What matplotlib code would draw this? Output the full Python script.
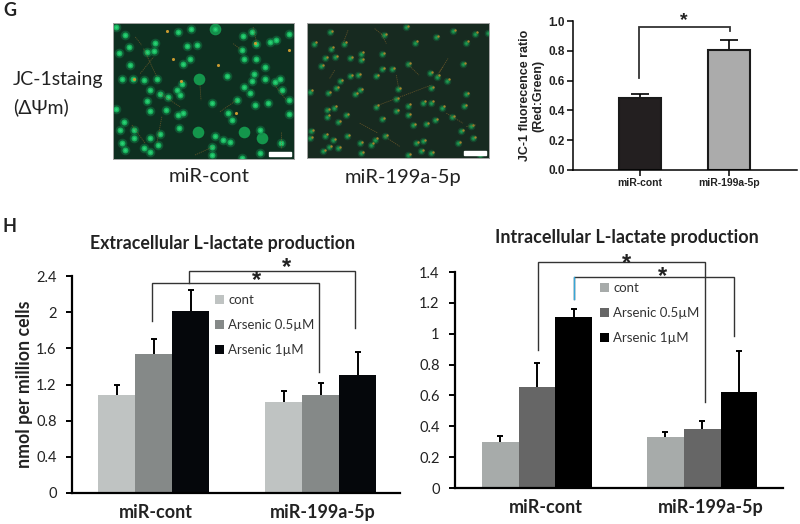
import matplotlib
matplotlib.use("Agg")
import matplotlib.pyplot as plt
from matplotlib.patches import Rectangle

W, H = 800, 524
plt.rcParams['font.family'] = ['Lato', 'DejaVu Sans']
DARK = "#222222"

# panel G
jc1_labels = ["miR-cont", "miR-199a-5p"]
jc1_values = [0.485, 0.805]
jc1_errors = [0.025, 0.07]

# panel H
groups = ["miR-cont", "miR-199a-5p"]
series = ["cont", "Arsenic 0.5µM", "Arsenic 1µM"]
extra_values = [[1.08, 1.01], [1.54, 1.08], [2.01, 1.31]]
extra_errors = [[0.12, 0.12], [0.16, 0.14], [0.23, 0.25]]
intra_values = [[0.295, 0.33], [0.655, 0.38], [1.11, 0.62]]
intra_errors = [[0.04, 0.035], [0.155, 0.055], [0.05, 0.265]]

# micrograph cells in 3x crop pixels
cont_cells = [(75,73),(55,128),(85,110),(163,97),(140,125),(160,123),(90,163),(65,207),(97,207),(130,210),(170,205),
              (150,240),(140,272),(180,252),(230,240),(245,222),(205,262),(240,255),(235,65),(272,55),(345,55),(428,78),
              (457,65),(510,95),(530,88),(468,100),(425,120),(432,147),(468,145),(495,170),(463,190),(497,207),(458,212),
              (433,230),(450,248),(542,205),(548,240),(525,215),(568,270),(505,280),(465,285),(410,270),(385,308),(397,330),
              (250,160),(270,145),(290,103),(262,108),(380,197),(336,280),(197,300),(235,315),(250,310),(150,302),(48,298),
              (70,335),(60,360),(100,360),(100,385),(148,385),(180,372),(238,355),(345,378),(368,390),(390,395),(480,360),
              (335,410),(335,435),(425,445),(480,430),(65,400),(75,420),(130,415),(175,405),(150,425),(545,400),(567,312),
              (568,70),(48,50)]
cont_big = [(298,205),(432,365),(488,385),(345,55),(295,365)]
cont_red = [(408,310),(242,213),(355,163),(220,147),(200,63),(465,97),(100,207),(567,120)]
mir_cells = [(90,65),(42,100),(95,115),(133,100),(107,140),(75,145),(150,143),(185,130),(185,150),(248,132),(65,168),
             (122,213),(175,195),(228,198),(150,198),(110,235),(85,250),(180,240),(165,252),(278,178),(248,178),(295,237),
             (325,163),(345,97),(252,75),(320,50),(408,80),(460,62),(500,97),(525,70),(490,163),(392,190),(412,200),
             (443,212),(395,235),(370,278),(393,278),(498,252),(492,288),(428,293),(325,287),(230,290),(288,268),(290,303),
             (325,315),(340,345),(378,343),(405,330),(458,322),(248,327),(82,300),(103,293),(82,320),(140,315),(115,337),
             (35,365),(30,385),(75,378),(100,392),(143,380),(180,400),(225,390),(255,380),(215,405),(88,412),(70,425),
             (115,415),(185,430),(350,400),(370,395),(365,425),(395,430),(325,437),(475,400),(485,365),(515,350),(520,385),
             (540,437),(565,68),(30,245)]
# thin processes between cells, crop pixels
cont_fibres = [[(120,190),(160,140)],[(300,225),(303,270)],[(360,305),(410,270)],[(545,365),(545,415)],[(285,435),(340,410)],
               [(95,345),(135,400)],[(185,320),(170,400)],[(400,100),(425,120)],[(460,50),(470,95)],[(525,225),(560,270)],
               [(130,115),(170,200)],[(105,80),(125,105)],[(180,250),(240,290)]]
mir_fibres = [[(225,290),(330,250),(395,225)],[(430,170),(410,200)],[(90,205),(105,180)],[(245,70),(260,100)],[(225,55),(250,75)],
              [(290,195),(297,235)],[(325,163),(358,195)],[(180,340),(235,370)],[(255,380),(300,410)],[(440,310),(490,340)],
              [(420,185),(445,145)],[(145,60),(130,100)],[(500,350),(530,345)]]


fig = plt.figure(figsize=(W / 100, H / 100), dpi=100)

# overlay in pixel coordinates for the labels and brackets
ov = fig.add_axes([0, 0, 1, 1], zorder=5)
ov.set_xlim(0, W)
ov.set_ylim(H, 0)
ov.axis("off")


def px_axes(x0, x1, y_top, y_bottom):
    return fig.add_axes([x0 / W, 1 - y_bottom / H, (x1 - x0) / W, (y_bottom - y_top) / H])


def base_photo(box, crop_box, bg, fibres):
    ax = px_axes(*box)
    ax.set_facecolor(bg)
    ax.set_xlim(crop_box[0], crop_box[1])
    ax.set_ylim(crop_box[3], crop_box[2])
    ax.set_xticks([])
    ax.set_yticks([])
    for s in ax.spines.values():
        s.set_color("#a5a5a5")
        s.set_linewidth(0.7)
    for f in fibres:
        ax.plot(*zip(*f), color="#7a5f2a", lw=0.6, alpha=0.7, ls=(0, (1.5, 1)))
    # white scale bar
    ax.add_patch(Rectangle((crop_box[1] - 75, crop_box[3] - 20), 65, 10, color="white", zorder=5))
    return ax


ax_p1 = base_photo((113, 294, 23, 159), (38, 583, 38, 447), "#0e2f20", cont_fibres)
ax_p1.scatter(*zip(*cont_big), s=70, color="#16a955", linewidths=0, alpha=0.85)
ax_p1.scatter(*zip(*cont_cells), s=48, color="#14824a", linewidths=0, alpha=0.45)
ax_p1.scatter(*zip(*cont_cells), s=18, color="#18b15c", linewidths=0)
ax_p1.scatter(*zip(*cont_cells), s=4, color="#2bd277", linewidths=0)
ax_p1.scatter(*zip(*cont_red), s=5, color="#c99a30", linewidths=0)

ax_p2 = base_photo((307, 489, 23, 158), (22, 568, 38, 445), "#172a20", mir_fibres)
ax_p2.scatter(*zip(*mir_cells), s=30, color="#14603a", linewidths=0, alpha=0.5)
ax_p2.scatter(*zip(*mir_cells), s=12, color="#17773f", linewidths=0)
ax_p2.scatter(*zip(*mir_cells), s=3, color="#1f9b55", linewidths=0)
ax_p2.scatter([c[0] + 6 for c in mir_cells], [c[1] - 4 for c in mir_cells], s=3, color="#a8822c", linewidths=0)

ov.text(13, 80, "JC-1staing", fontsize=14, va="center", ha="left", color=DARK)
ov.text(13, 107, "(ΔΨm)", fontsize=14, va="center", ha="left", color=DARK)
ov.text(209, 177, "miR-cont", fontsize=14.5, ha="center", va="center", color=DARK)
ov.text(403, 177, "miR-199a-5p", fontsize=14.5, ha="center", va="center", color=DARK)
ov.text(3, 10, "G", fontsize=13, fontweight="bold", va="center", color=DARK)
ov.text(3, 227, "H", fontsize=13, fontweight="bold", va="center", color=DARK)


def bracket(x0, y0, x1, y1, yend, color="#333333", lw=1.0):
    ov.plot([x0, x0, x1, x1], [y0, y1, y1, yend], color=color, lw=lw, solid_joinstyle="miter")


def upper_err(ax, xs, vals, errs, lw, cap):
    # error bars only go upward, drop the lower cap
    eb = ax.errorbar(xs, vals, yerr=[[0] * len(vals), errs], fmt="none", ecolor="black",
                     elinewidth=lw, capsize=cap, capthick=lw, zorder=1)
    eb[1][0].set_visible(False)


def grouped(ax, values, errors, colors, width, ymax, ticks, ticklabels, label_shift, label_pad):
    for i, vals in enumerate(values):
        xs = [g + (i - 1) * width for g in range(len(groups))]
        ax.bar(xs, vals, width, color=colors[i], label=series[i], zorder=2)
        upper_err(ax, xs, vals, errors[i], 1.4, 2)
    ax.set_ylim(0, ymax)
    ax.set_yticks(ticks)
    ax.set_yticklabels(ticklabels, fontsize=10.5, color=DARK)
    ax.set_xticks([g + label_shift for g in range(len(groups))])
    ax.set_xticklabels(groups, fontsize=13, fontweight="bold", color=DARK)
    ax.tick_params(axis="x", length=0, pad=label_pad)
    ax.tick_params(axis="y", direction="out", length=4, width=1.4, pad=7)
    ax.spines[["top", "right"]].set_visible(False)
    ax.spines[["left", "bottom"]].set_linewidth(1.6)
    ax.patch.set_alpha(0)


def put_legend(ax, left, top, box):
    ax.legend(loc="upper left", bbox_to_anchor=((left - box[0]) / (box[1] - box[0]), (box[3] - top) / (box[3] - box[2])),
              frameon=False, fontsize=9.5, handlelength=0.7, handleheight=0.7, handletextpad=0.3,
              labelspacing=0.98, borderpad=0, borderaxespad=0, labelcolor="#333333")


# JC-1 bars
ARIAL = ["Liberation Sans", "DejaVu Sans"]
ax_g = px_axes(573, 797, 21, 170)
ax_g.bar(range(2), jc1_values, 0.48, color=["#231f20", "#ababab"], edgecolor="#1a1a1a", linewidth=1.5, zorder=2)
upper_err(ax_g, range(2), jc1_values, jc1_errors, 1.2, 6.5)
ax_g.set_xlim(-0.753, 1.764)
ax_g.set_ylim(0, 1)
ax_g.set_yticks([0, .2, .4, .6, .8, 1])
ax_g.set_yticklabels(["0.0", "0.2", "0.4", "0.6", "0.8", "1.0"], fontsize=8.5, fontweight="bold", color=DARK, family=ARIAL)
ax_g.set_xticks(range(2))
ax_g.set_xticklabels(jc1_labels, fontsize=7.5, fontweight="bold", color=DARK, family=ARIAL)
ax_g.tick_params(length=4, width=1.1, pad=2)
ax_g.spines[["top", "right"]].set_visible(False)
ax_g.spines[["left", "bottom"]].set_linewidth(1.1)
ax_g.set_ylabel("JC-1 fluorecence ratio\n(Red:Green)", fontsize=9, fontweight="bold", color=DARK, labelpad=3,
                linespacing=1.1, family=ARIAL)
bracket(639, 78, 730, 27, 31, lw=1.3)
ov.text(684, 21, "*", fontsize=14, fontweight="bold", ha="center", va="center", color=DARK, family=ARIAL)

# extracellular
box_l = (72, 400, 276, 493)
ax_l = px_axes(*box_l)
grouped(ax_l, extra_values, extra_errors, ["#bfc3c2", "#858988", "#05070b"], 0.221, 2.4,
        [0, .4, .8, 1.2, 1.6, 2, 2.4], ["0", "0.4", "0.8", "1.2", "1.6", "2", "2.4"], 0.012, 8)
ax_l.set_xlim(-0.487, 1.472)
ax_l.set_ylabel("nmol per million cells", fontsize=12.8, fontweight="bold", color=DARK, labelpad=2)
ov.text(223, 243, "Extracellular L-lactate production", fontsize=12.8, fontweight="bold",
        ha="center", va="center", color=DARK)
bracket(152, 321, 319, 283, 372)
bracket(189, 283, 355, 271, 328)
ov.text(286, 268, "*", fontsize=17, fontweight="bold", ha="center", va="center", color=DARK, family=ARIAL)
ov.text(256, 281, "*", fontsize=17, fontweight="bold", ha="center", va="center", color=DARK, family=ARIAL)
put_legend(ax_l, 215, 294, box_l)

# intracellular
box_r = (455, 783, 272, 488)
ax_r = px_axes(*box_r)
grouped(ax_r, intra_values, intra_errors, ["#a7abaa", "#666666", "#000000"], 0.223, 1.4,
        [0, .2, .4, .6, .8, 1, 1.2, 1.4], ["0", "0.2", "0.4", "0.6", "0.8", "1", "1.2", "1.4"], 0.052, 8)
ax_r.set_xlim(-0.497, 1.49)
ov.text(627, 238, "Intracellular L-lactate production", fontsize=13, fontweight="bold",
        ha="center", va="center", color=DARK)
bracket(538, 350, 705, 262, 402)
bracket(574, 299, 734, 277, 336)
ov.plot([574, 574], [299, 277], color="#35a7d8", lw=1.0)
ov.text(627, 264, "*", fontsize=17, fontweight="bold", ha="center", va="center", color=DARK, family=ARIAL)
ov.text(663, 277, "*", fontsize=17, fontweight="bold", ha="center", va="center", color=DARK, family=ARIAL)
put_legend(ax_r, 600, 282, box_r)

fig.savefig("out.png", dpi=100)
